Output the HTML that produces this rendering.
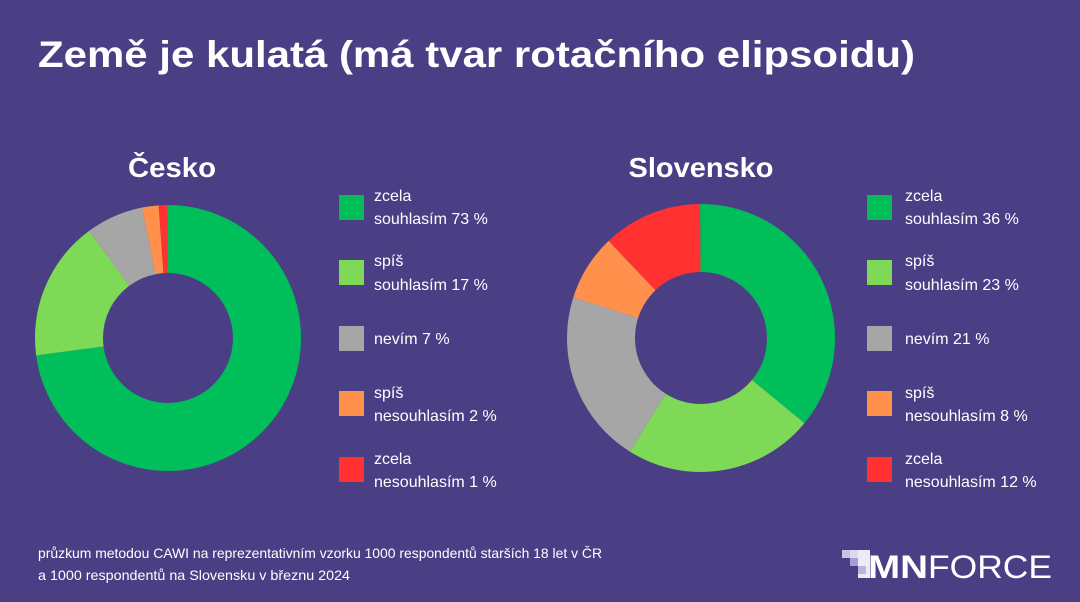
<!DOCTYPE html>
<html><head><meta charset="utf-8"><style>
html,body{margin:0;padding:0;background:#4a3f85;}
svg{display:block;}
text{font-family:"Liberation Sans",sans-serif;fill:#fff;}
</style></head><body>
<svg width="1080" height="602" viewBox="0 0 1080 602" xmlns="http://www.w3.org/2000/svg">
<rect width="1080" height="602" fill="#4a3f85"/>
<text x="38" y="67" font-size="37" font-weight="bold" textLength="877" lengthAdjust="spacingAndGlyphs">Země je kulatá (má tvar rotačního elipsoidu)</text>
<text x="172" y="177" font-size="28" font-weight="bold" text-anchor="middle" textLength="88" lengthAdjust="spacingAndGlyphs">Česko</text>
<text x="701" y="177" font-size="28" font-weight="bold" text-anchor="middle" textLength="145" lengthAdjust="spacingAndGlyphs">Slovensko</text>

<g transform="translate(168,338) rotate(-90)" fill="none" stroke-width="68">
<circle r="99" pathLength="100" stroke="#00be5a" stroke-dasharray="73 27" stroke-dashoffset="0"/>
<circle r="99" pathLength="100" stroke="#7ed957" stroke-dasharray="17 83" stroke-dashoffset="-73"/>
<circle r="99" pathLength="100" stroke="#a6a6a6" stroke-dasharray="7 93" stroke-dashoffset="-90"/>
<circle r="99" pathLength="100" stroke="#ff914d" stroke-dasharray="2 98" stroke-dashoffset="-97"/>
<circle r="99" pathLength="100" stroke="#ff3131" stroke-dasharray="1 99" stroke-dashoffset="-99"/>
</g>
<g transform="translate(701,338) rotate(-90)" fill="none" stroke-width="68">
<circle r="100" pathLength="100" stroke="#00be5a" stroke-dasharray="36 64" stroke-dashoffset="0"/>
<circle r="100" pathLength="100" stroke="#7ed957" stroke-dasharray="23 77" stroke-dashoffset="-36"/>
<circle r="100" pathLength="100" stroke="#a6a6a6" stroke-dasharray="21 79" stroke-dashoffset="-59"/>
<circle r="100" pathLength="100" stroke="#ff914d" stroke-dasharray="8 92" stroke-dashoffset="-80"/>
<circle r="100" pathLength="100" stroke="#ff3131" stroke-dasharray="12 88" stroke-dashoffset="-88"/>
</g>

<g font-size="16">
<rect x="339" y="195" width="25" height="25" fill="#00be5a"/>
<text x="374" y="201">zcela</text><text x="374" y="224">souhlasím 73 %</text>
<rect x="339" y="260" width="25" height="25" fill="#7ed957"/>
<text x="374" y="266">spíš</text><text x="374" y="290">souhlasím 17 %</text>
<rect x="339" y="326" width="25" height="25" fill="#a6a6a6"/>
<text x="374" y="344">nevím 7 %</text>
<rect x="339" y="391" width="25" height="25" fill="#ff914d"/>
<text x="374" y="398">spíš</text><text x="374" y="421">nesouhlasím 2 %</text>
<rect x="339" y="457" width="25" height="25" fill="#ff3131"/>
<text x="374" y="464">zcela</text><text x="374" y="487">nesouhlasím 1 %</text>

<rect x="867" y="195" width="25" height="25" fill="#00be5a"/>
<text x="905" y="201">zcela</text><text x="905" y="224">souhlasím 36 %</text>
<rect x="867" y="260" width="25" height="25" fill="#7ed957"/>
<text x="905" y="266">spíš</text><text x="905" y="290">souhlasím 23 %</text>
<rect x="867" y="326" width="25" height="25" fill="#a6a6a6"/>
<text x="905" y="344">nevím 21 %</text>
<rect x="867" y="391" width="25" height="25" fill="#ff914d"/>
<text x="905" y="398">spíš</text><text x="905" y="421">nesouhlasím 8 %</text>
<rect x="867" y="457" width="25" height="25" fill="#ff3131"/>
<text x="905" y="464">zcela</text><text x="905" y="487">nesouhlasím 12 %</text>
</g>

<g font-size="14">
<text x="38" y="558" textLength="564" lengthAdjust="spacingAndGlyphs">průzkum metodou CAWI na reprezentativním vzorku 1000 respondentů starších 18 let v ČR</text>
<text x="38" y="580" textLength="312" lengthAdjust="spacingAndGlyphs">a 1000 respondentů na Slovensku v březnu 2024</text>
</g>

<g>
<rect x="842" y="550" width="8" height="8" fill="#c9c3e6"/>
<rect x="850" y="550" width="8" height="8" fill="#ddd9f0"/>
<rect x="858" y="550" width="12" height="28" fill="#eeeaf8"/>
<rect x="850" y="558" width="8" height="8" fill="#a99fd6"/>
<rect x="858" y="566" width="8" height="8" fill="#bbb3e0"/>
<text x="868" y="578" font-size="32" font-weight="bold" textLength="60" lengthAdjust="spacingAndGlyphs">MN</text>
<text x="928" y="578" font-size="32" textLength="124" lengthAdjust="spacingAndGlyphs">FORCE</text>
</g>
</svg>
</body></html>
